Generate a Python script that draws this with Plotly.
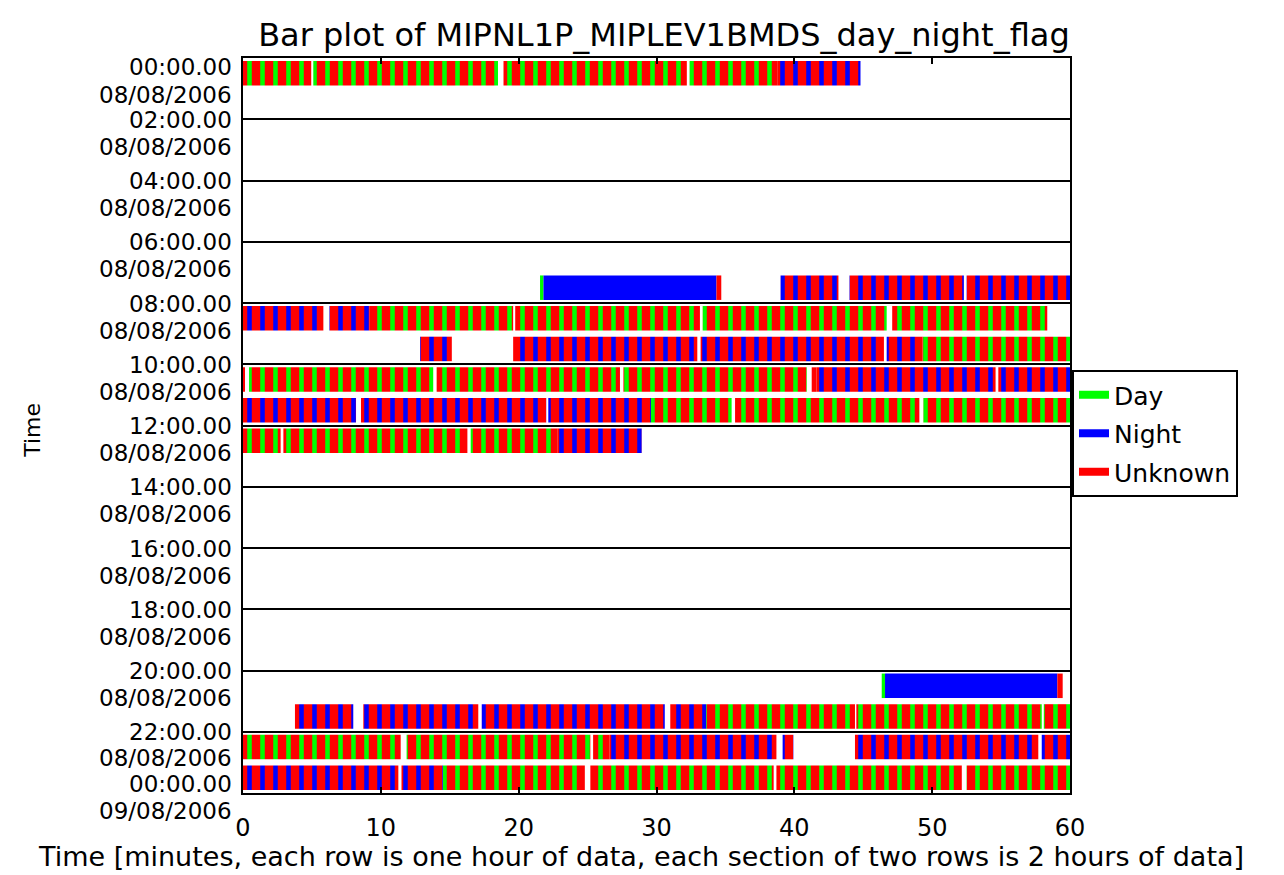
import plotly.graph_objects as go

# ---------------- data (minutes within each hour row) ----------------
# Each tuple: (hour_row, start_minute, end_minute)
DAY_RUNS = [
    (0, 0.0, 4.95), (0, 5.1, 18.5), (0, 18.9, 32.2), (0, 32.4, 38.8),
    (8, 9.2, 19.6), (8, 19.75, 33.15), (8, 33.35, 46.7), (8, 47.1, 58.35),
    (9, 49.3, 60.0),
    (10, 0.44, 13.8), (10, 14.05, 27.35), (10, 27.6, 40.9), (10, 41.26, 41.6),
    (11, 29.6, 35.45), (11, 35.7, 49.07), (11, 49.36, 60.0),
    (12, 0.0, 2.73), (12, 2.93, 16.28), (12, 16.52, 22.8),
    (21, 33.6, 44.4), (21, 44.5, 57.95), (21, 58.1, 60.0),
    (22, 0.0, 11.44), (22, 11.87, 25.2), (22, 25.4, 26.6),
    (23, 14.5, 24.8), (23, 25.2, 38.5), (23, 38.7, 52.15), (23, 52.5, 60.0),
]
NIGHT_RUNS = [
    (0, 38.8, 44.8),
    (7, 39.0, 43.2), (7, 44.0, 52.3), (7, 52.5, 60.0),
    (8, 0.0, 5.83), (8, 6.27, 9.2),
    (9, 12.85, 15.15), (9, 19.6, 32.96), (9, 33.2, 46.5), (9, 46.7, 49.3),
    (10, 41.6, 54.6), (10, 54.8, 60.0),
    (11, 0.0, 8.2), (11, 8.56, 22.0), (11, 22.15, 29.6),
    (12, 22.8, 28.93),
    (21, 3.77, 8.0), (21, 8.73, 17.07), (21, 17.32, 30.6), (21, 31.0, 33.6),
    (22, 26.6, 38.7), (22, 39.15, 39.93), (22, 44.4, 57.7), (22, 57.95, 60.0),
    (23, 0.0, 11.27), (23, 11.5, 14.5),
]
# solid single-flag runs: (hour_row, start, end, flag)
SOLID_RUNS = [
    (7, 21.55, 21.8, "Day"), (7, 21.8, 34.35, "Night"), (7, 34.35, 34.7, "Unknown"),
    (10, 0.0, 0.12, "Unknown"),
    (20, 46.34, 46.58, "Day"), (20, 46.58, 59.08, "Night"), (20, 59.08, 59.47, "Unknown"),
]

FLAGS = ["Day", "Night", "Unknown"]
FLAG_COLORS = {"Day": "#00ff00", "Night": "#0000ff", "Unknown": "#ff0000"}

X_TICKS = [0, 10, 20, 30, 40, 50, 60]
SECTION_HOURS = [0, 2, 4, 6, 8, 10, 12, 14, 16, 18, 20, 22, 24]
TIME_LABELS = ["00:00.00", "02:00.00", "04:00.00", "06:00.00", "08:00.00", "10:00.00",
               "12:00.00", "14:00.00", "16:00.00", "18:00.00", "20:00.00", "22:00.00",
               "00:00.00"]
DATE_LABELS = ["08/08/2006"] * 12 + ["09/08/2006"]

TITLE = "Bar plot of MIPNL1P_MIPLEV1BMDS_day_night_flag"
X_TITLE = ("Time [minutes, each row is one hour of data, each section of two rows "
           "is 2 hours of data]")
Y_TITLE = "Time"

FONT = "DejaVu Sans"
BAR_W = 0.8
Y_SPAN = 24.0

fig = go.Figure()


def striped(runs, stripe_color):
    return go.Bar(
        orientation="h",
        y=[r[0] + 0.5 for r in runs],
        base=[r[1] for r in runs],
        x=[r[2] - r[1] for r in runs],
        width=BAR_W,
        marker=dict(
            color=FLAG_COLORS["Unknown"],
            line=dict(width=0),
            pattern=dict(shape="|", fgcolor=stripe_color, bgcolor=FLAG_COLORS["Unknown"],
                         size=13, solidity=0.35, fillmode="replace"),
        ),
        showlegend=False,
        hoverinfo="skip",
    )


fig.add_trace(striped(DAY_RUNS, FLAG_COLORS["Day"]))
fig.add_trace(striped(NIGHT_RUNS, FLAG_COLORS["Night"]))
fig.add_trace(go.Bar(
    orientation="h",
    y=[r[0] + 0.5 for r in SOLID_RUNS],
    base=[r[1] for r in SOLID_RUNS],
    x=[r[2] - r[1] for r in SOLID_RUNS],
    width=BAR_W,
    marker=dict(color=[FLAG_COLORS[r[3]] for r in SOLID_RUNS], line=dict(width=0)),
    showlegend=False,
    hoverinfo="skip",
))

# legend entries
for f in FLAGS:
    fig.add_trace(go.Scatter(
        x=[None], y=[None], mode="lines", name=f, legendgroup=f,
        line=dict(color=FLAG_COLORS[f], width=8),
    ))

# y labels (two lines per section boundary), placed in paper coords (hours -> fraction)
time_pos = [0.29] + [h + 0.02 for h in SECTION_HOURS[1:-1]] + [23.7]
date_pos = [1.2] + [h + 0.9 for h in SECTION_HOURS[1:-2]] + [22.85, 24.58]
annotations = []
for t, d, yt, yd in zip(TIME_LABELS, DATE_LABELS, time_pos, date_pos):
    for txt, yy in ((t, yt), (d, yd)):
        annotations.append(dict(text=txt, xref="paper", yref="paper", x=-0.011,
                                y=1 - yy / Y_SPAN, xanchor="right", yanchor="middle",
                                showarrow=False,
                                font=dict(family=FONT, size=23, color="black")))

annotations.append(dict(text=X_TITLE, xref="paper", yref="paper", x=0.4813, y=-0.087,
                        xanchor="center", yanchor="middle", showarrow=False,
                        font=dict(family=FONT, size=27, color="black")))
annotations.append(dict(text=Y_TITLE, xref="paper", yref="paper", x=-0.254, y=0.494,
                        xanchor="center", yanchor="middle", showarrow=False, textangle=-90,
                        font=dict(family=FONT, size=22, color="black")))

fig.update_layout(
    width=1276, height=867, autosize=False,
    margin=dict(l=235, r=214, t=50, b=82),
    paper_bgcolor="white", plot_bgcolor="white",
    barmode="overlay",
    title=dict(text=TITLE, x=0.509, xref="paper", xanchor="center",
               y=1 - 27 / 867, yref="container", yanchor="middle",
               font=dict(family=FONT, size=32, color="black")),
    xaxis=dict(range=[0, 60], tickvals=X_TICKS, ticktext=[str(v) for v in X_TICKS],
               showline=True, linecolor="black", linewidth=2, mirror="allticks",
               ticks="inside", ticklen=6, tickwidth=2, tickcolor="black",
               showgrid=False, zeroline=False, ticklabelstandoff=12,
               tickfont=dict(family=FONT, size=24, color="black")),
    yaxis=dict(range=[Y_SPAN, 0], tickvals=SECTION_HOURS, showticklabels=False, ticks="",
               showline=True, linecolor="black", linewidth=2, mirror=True,
               showgrid=True, gridcolor="black", gridwidth=2, zeroline=False),
    legend=dict(x=1.0024, xanchor="left", y=0.5755, yanchor="top",
                bordercolor="black", borderwidth=2, bgcolor="white",
                tracegroupgap=3,
                font=dict(family=FONT, size=25, color="black")),
    annotations=annotations,
)

fig.write_html("out.html")
